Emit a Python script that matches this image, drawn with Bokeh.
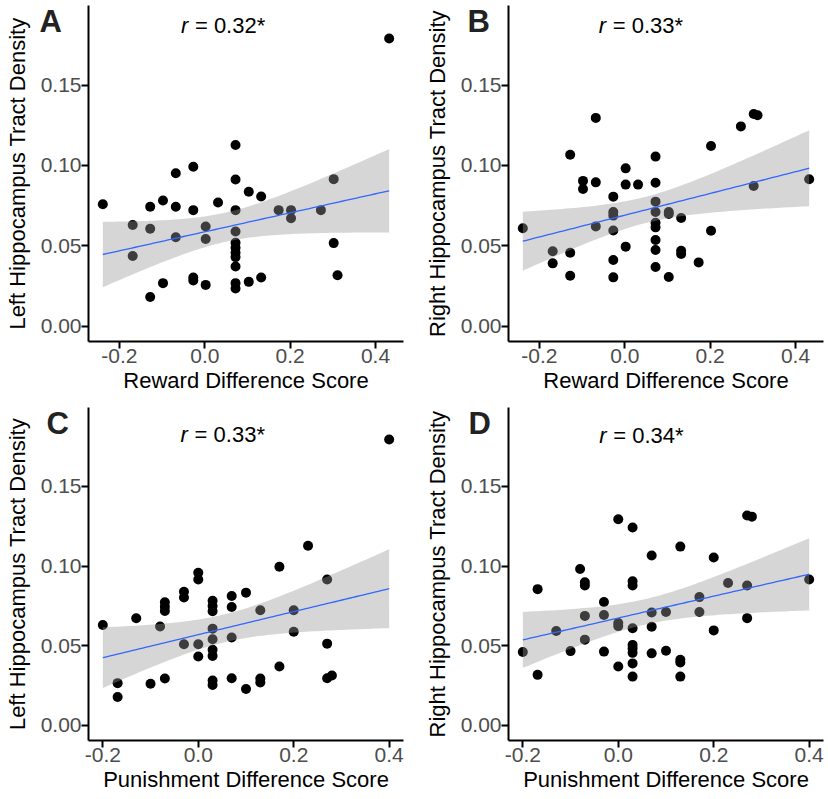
import numpy as np
from bokeh.plotting import figure
from bokeh.models import FixedTicker, Label
from bokeh.layouts import column, row
from bokeh.embed import file_html
from bokeh.resources import INLINE

# ---------------- data ----------------
reward_A = [-0.239, -0.169, -0.169, -0.128, -0.128, -0.128, -0.098, -0.098,
            -0.068, -0.068, -0.068, -0.027, -0.027, -0.027, -0.027,
            0.002, 0.002, 0.002, 0.031,
            0.072, 0.072, 0.072, 0.072, 0.072, 0.072, 0.072, 0.072, 0.072, 0.072, 0.072,
            0.103, 0.103, 0.132, 0.132, 0.173, 0.202, 0.202, 0.272,
            0.302, 0.302, 0.311, 0.432]
left_A = [0.0759, 0.0630, 0.0437, 0.0743, 0.0606, 0.0182, 0.0782, 0.0268,
          0.0952, 0.0743, 0.0554, 0.0992, 0.0722, 0.0303, 0.0284,
          0.0620, 0.0543, 0.0257, 0.0770,
          0.1127, 0.0913, 0.0722, 0.0589, 0.0519, 0.0488, 0.0457, 0.0430, 0.0372, 0.0268, 0.0235,
          0.0836, 0.0276, 0.0807, 0.0303, 0.0722, 0.0722, 0.0672, 0.0722,
          0.0915, 0.0517, 0.0317, 0.1790]

reward_B = [-0.239, -0.169, -0.169, -0.128, -0.128, -0.128, -0.098, -0.098,
            -0.068, -0.068, -0.068, -0.027, -0.027, -0.027, -0.027, -0.027, -0.027,
            0.002, 0.002, 0.002, 0.031,
            0.072, 0.072, 0.072, 0.072, 0.072, 0.072, 0.072, 0.072, 0.072,
            0.103, 0.103, 0.103, 0.132, 0.132, 0.132, 0.173, 0.202, 0.202,
            0.272, 0.302, 0.311, 0.302, 0.432]
right_B = [0.0609, 0.0466, 0.0391, 0.1067, 0.0457, 0.0314, 0.0904, 0.0854,
           0.1296, 0.0895, 0.0621, 0.0806, 0.0711, 0.0688, 0.0596, 0.0412, 0.0304,
           0.0982, 0.0881, 0.0495, 0.0881,
           0.1055, 0.0893, 0.0775, 0.0711, 0.0644, 0.0615, 0.0536, 0.0474, 0.0368,
           0.0711, 0.0698, 0.0306, 0.0673, 0.0470, 0.0449, 0.0397, 0.1121, 0.0594,
           0.1243, 0.1320, 0.1312, 0.0872, 0.0914]

punish_C = [0.40, -0.20, -0.169, -0.169, -0.13, -0.10, -0.08,
            -0.07, -0.07, -0.07, -0.07, -0.03, -0.03, -0.03,
            0.0, 0.0, 0.0, 0.0,
            0.03, 0.03, 0.03, 0.03, 0.03, 0.03, 0.03, 0.03, 0.03,
            0.07, 0.07, 0.07, 0.07, 0.10, 0.10, 0.13, 0.13, 0.13,
            0.17, 0.17, 0.20, 0.20, 0.23, 0.27, 0.27, 0.27, 0.28]
left_C = [0.1794, 0.0630, 0.0265, 0.0178, 0.0672, 0.0261, 0.0620,
          0.0772, 0.0745, 0.0718, 0.0294, 0.0839, 0.0803, 0.0509,
          0.0958, 0.0916, 0.0509, 0.0432,
          0.0782, 0.0749, 0.0716, 0.0607, 0.0541, 0.0474, 0.0436, 0.0282, 0.0253,
          0.0812, 0.0743, 0.0551, 0.0296, 0.0833, 0.0228, 0.0722, 0.0294, 0.0269,
          0.0995, 0.0369, 0.0722, 0.0588, 0.1127, 0.0916, 0.0513, 0.0296, 0.0313]

punish_D = [-0.20, -0.169, -0.169, -0.13, -0.10, -0.08,
            -0.07, -0.07, -0.07, -0.07, -0.03, -0.03, -0.03,
            0.0, 0.0, 0.0, 0.0,
            0.03, 0.03, 0.03, 0.03, 0.03, 0.03, 0.03, 0.03, 0.03,
            0.07, 0.07, 0.07, 0.07, 0.10, 0.10, 0.13, 0.13, 0.13, 0.13,
            0.17, 0.17, 0.20, 0.20, 0.23, 0.27, 0.28, 0.27, 0.27, 0.40]
right_D = [0.0461, 0.0855, 0.0317, 0.0592, 0.0466, 0.0981,
           0.0898, 0.0878, 0.0687, 0.0538, 0.0774, 0.0693, 0.0463,
           0.1294, 0.0643, 0.0623, 0.0370,
           0.1242, 0.0904, 0.0878, 0.0610, 0.0505, 0.0483, 0.0455, 0.0389, 0.0306,
           0.1066, 0.0708, 0.0619, 0.0452, 0.0712, 0.0468, 0.1122, 0.0412, 0.0395, 0.0306,
           0.0805, 0.0712, 0.1054, 0.0596, 0.0894, 0.1317, 0.1310, 0.0878, 0.0673, 0.0915]

x_ticks = [-0.2, 0.0, 0.2, 0.4]
x_tick_labels = ["-0.2", "0.0", "0.2", "0.4"]
y_ticks = [0.00, 0.05, 0.10, 0.15]
y_tick_labels = ["0.00", "0.05", "0.10", "0.15"]
y_limits = [0.0, 0.19]
panel_letters = ["A", "B", "C", "D"]
r_values = ["0.32*", "0.33*", "0.33*", "0.34*"]
x_titles = ["Reward Difference Score", "Reward Difference Score",
            "Punishment Difference Score", "Punishment Difference Score"]
y_titles = ["Left Hippocampus Tract Density", "Right Hippocampus Tract Density",
            "Left Hippocampus Tract Density", "Right Hippocampus Tract Density"]

FONT = "Liberation Sans"
T95 = 2.015


def make_panel(xs, ys, idx, width, height, bl, br, bt, bb, r_x, r_y, letter_offset):
    xv = np.asarray(xs, dtype=float)
    yv = np.asarray(ys, dtype=float)
    xmin, xmax = xv.min(), xv.max()
    pad = 0.05 * (xmax - xmin)
    x0, x1 = xmin - pad, xmax + pad
    ypad = 0.05 * (y_limits[1] - y_limits[0])
    y0, y1 = y_limits[0] - ypad, y_limits[1] + ypad

    p = figure(width=width, height=height, x_range=(x0, x1), y_range=(y0, y1),
               output_backend="svg", toolbar_location=None,
               min_border_left=bl, min_border_right=br,
               min_border_top=bt, min_border_bottom=bb)
    p.outline_line_color = None
    p.xgrid.visible = False
    p.ygrid.visible = False
    p.background_fill_color = "white"
    p.border_fill_color = "white"

    # points
    p.scatter(xv, yv, size=10, fill_color="black", line_color="black", line_width=0)

    # linear fit with 95% confidence band
    n = len(xv)
    xbar = xv.mean()
    sxx = np.sum((xv - xbar) ** 2)
    b = np.sum((xv - xbar) * (yv - yv.mean())) / sxx
    a = yv.mean() - b * xbar
    s = np.sqrt(np.sum((yv - (a + b * xv)) ** 2) / (n - 2))
    gx = np.linspace(xmin, xmax, 80)
    fit = a + b * gx
    se = s * np.sqrt(1.0 / n + (gx - xbar) ** 2 / sxx)
    p.varea(x=gx, y1=fit - T95 * se, y2=fit + T95 * se, fill_color="#999999", fill_alpha=0.4)
    p.line(gx, fit, line_color="#3366FF", line_width=1.3)

    for ax in (p.xaxis[0], p.yaxis[0]):
        ax.axis_line_color = "black"
        ax.axis_line_width = 2
        ax.major_tick_line_color = "black"
        ax.major_tick_line_width = 2
        ax.major_tick_out = 7
        ax.major_tick_in = 0
        ax.minor_tick_line_color = None
        ax.major_label_text_font = FONT
        ax.major_label_text_font_size = "21px"
        ax.major_label_text_color = "#4D4D4D"
        ax.axis_label_text_font = FONT
        ax.axis_label_text_font_size = "22px"
        ax.axis_label_text_font_style = "normal"
        ax.axis_label_text_color = "black"
        ax.major_label_standoff = 0

    p.xaxis[0].ticker = FixedTicker(ticks=x_ticks)
    p.xaxis[0].major_label_overrides = {t: l for t, l in zip(x_ticks, x_tick_labels)}
    p.xaxis[0].axis_label = x_titles[idx]
    p.xaxis[0].axis_label_standoff = 2
    p.yaxis[0].ticker = FixedTicker(ticks=y_ticks)
    p.yaxis[0].major_label_overrides = {t: l for t, l in zip(y_ticks, y_tick_labels)}
    p.yaxis[0].axis_label = y_titles[idx]
    p.yaxis[0].axis_label_standoff = 8

    # panel letter drawn as a title pulled down into the top-left corner
    p.title.text = panel_letters[idx]
    p.title.align = "left"
    p.title.offset = letter_offset
    p.title.standoff = -67
    p.title.text_font = FONT
    p.title.text_font_size = "31px"
    p.title.text_font_style = "bold"
    p.title.text_color = "#222222"

    # correlation annotation
    p.add_layout(Label(x=r_x, y=r_y, text="r", text_font=FONT, text_font_size="22px",
                       text_font_style="italic", text_color="black",
                       text_baseline="alphabetic", text_align="left"))
    p.add_layout(Label(x=r_x, y=r_y, x_offset=14, text="= " + r_values[idx], text_font=FONT,
                       text_font_size="22px", text_color="black",
                       text_baseline="alphabetic", text_align="left"))
    return p


pA = make_panel(reward_A, left_A, 0, 420, 399, 88, 17, 5, 58, -0.056, 0.187, -49)
pB = make_panel(reward_B, right_B, 1, 406, 399, 88, 3, 5, 58, -0.061, 0.187, -41)
pC = make_panel(punish_C, left_C, 2, 420, 399, 88, 17, 8, 58, -0.037, 0.1825, -42)
pD = make_panel(punish_D, right_D, 3, 406, 399, 88, 3, 8, 58, -0.040, 0.182, -40)

layout = column(row(pA, pB), row(pC, pD))

with open("out.html", "w") as f:
    f.write(file_html(layout, INLINE))
